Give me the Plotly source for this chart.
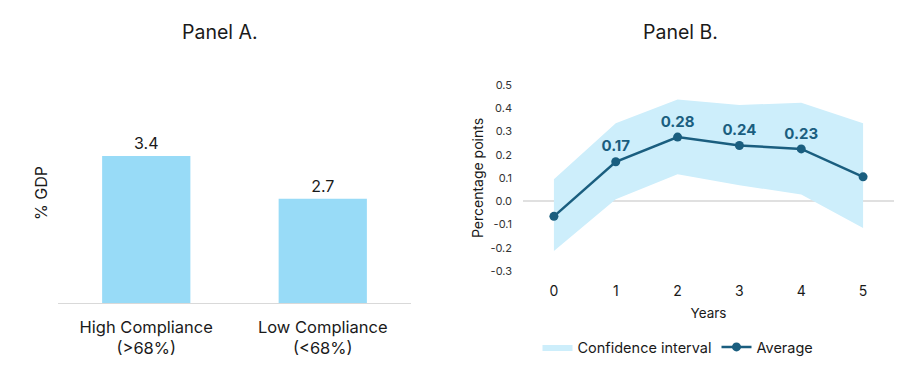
import plotly.graph_objects as go

# Panel A data
categories = ["High Compliance<br>(>68%)", "Low Compliance<br>(<68%)"]
gdp_values = [3.4, 2.7]

# Panel B data
years = [0, 1, 2, 3, 4, 5]
average = [-0.065, 0.17, 0.276, 0.24, 0.225, 0.105]
ci_upper = [0.095, 0.335, 0.438, 0.414, 0.424, 0.335]
ci_lower = [-0.214, 0.009, 0.116, 0.069, 0.029, -0.115]
avg_labels = ["", "0.17", "0.28", "0.24", "0.23", ""]
y_tick_vals = [-0.3, -0.2, -0.1, 0.0, 0.1, 0.2, 0.3, 0.4, 0.5]
y_tick_text = ["-0.3", "-0.2", "-0.1", "0.0", "0.1", "0.2", "0.3", "0.4", "0.5"]

FONT = "Inter"
BAR = "#98DBF7"
CI = "#CDEEFB"
LINE = "#1A5E7F"
TXT = "#1a1a1a"

# page has an 8px body margin; figure sized to fit the 910x369 window
OFF = 8
W, H = 910 - OFF, 369 - OFF


def px(x):
    return (x - OFF) / W


def py(y):
    return (369 - y) / H


fig = go.Figure()

fig.add_trace(go.Bar(
    x=categories, y=gdp_values, marker=dict(color=BAR, line=dict(width=0)),
    text=[f"{v:.1f}" for v in gdp_values], textposition="outside",
    textfont=dict(size=16, color=TXT, family=FONT), cliponaxis=False,
    xaxis="x", yaxis="y", showlegend=False, hoverinfo="skip"))

fig.add_trace(go.Scatter(
    x=years, y=ci_lower, mode="lines", line=dict(width=0, color=CI),
    xaxis="x2", yaxis="y2", showlegend=False, hoverinfo="skip"))
fig.add_trace(go.Scatter(
    x=years, y=ci_upper, mode="lines", line=dict(width=0, color=CI),
    fill="tonexty", fillcolor=CI, name="Confidence interval",
    xaxis="x2", yaxis="y2"))
fig.add_trace(go.Scatter(
    x=years, y=average, mode="lines+markers+text", name="Average",
    line=dict(color=LINE, width=2.5), marker=dict(color=LINE, size=9),
    text=avg_labels, textposition="top center",
    textfont=dict(size=15, color=LINE, family=FONT, weight="bold"),
    cliponaxis=False, xaxis="x2", yaxis="y2"))

fig.update_layout(
    width=W, height=H, margin=dict(l=0, r=0, t=0, b=0, autoexpand=False),
    paper_bgcolor="white", plot_bgcolor="white",
    font=dict(family=FONT, color=TXT),
    bargap=0.5,
    xaxis=dict(domain=[px(58), px(411)], showgrid=False, showline=True,
               linecolor="#d9d9d9", linewidth=1, ticks="", automargin=False,
               tickfont=dict(size=16.5, color=TXT), ticklabelstandoff=9,
               anchor="y", fixedrange=True),
    yaxis=dict(domain=[py(303), py(83)], range=[1, 4.59], automargin=False,
               showgrid=False, showticklabels=False, zeroline=False,
               title=dict(text="% GDP", font=dict(size=16, color=TXT), standoff=5),
               anchor="x"),
    xaxis2=dict(domain=[px(523), px(894)], range=[-0.5, 5.5], showgrid=False,
                zeroline=False, showline=False, tickmode="array", tickvals=years,
                tickfont=dict(size=14, color=TXT), ticklabelstandoff=10, automargin=False,
                title=dict(text="Years", font=dict(size=13.5, color=TXT), standoff=10),
                anchor="y2"),
    yaxis2=dict(domain=[py(271), py(85)], range=[-0.3, 0.5],
                showgrid=False, zeroline=True, zerolinecolor="#e0e0e0", zerolinewidth=1.5,
                tickmode="array", tickvals=y_tick_vals, ticktext=y_tick_text,
                tickfont=dict(size=11, color="#333333"), ticklabelstandoff=10, automargin=False,
                title=dict(text="Percentage points", font=dict(size=14, color=TXT), standoff=3),
                anchor="x2"),
    legend=dict(orientation="h", x=px(678), xanchor="center", y=py(347), yanchor="middle",
                font=dict(size=14.5, color=TXT), itemwidth=30, traceorder="normal"),
    annotations=[
        dict(text="Panel A.", x=px(220), y=py(32), xref="paper", yref="paper",
             showarrow=False, font=dict(size=19.5, color=TXT), xanchor="center", yanchor="middle"),
        dict(text="Panel B.", x=px(680), y=py(32), xref="paper", yref="paper",
             showarrow=False, font=dict(size=19.5, color=TXT), xanchor="center", yanchor="middle"),
    ],
)

fig.write_html("out.html")
